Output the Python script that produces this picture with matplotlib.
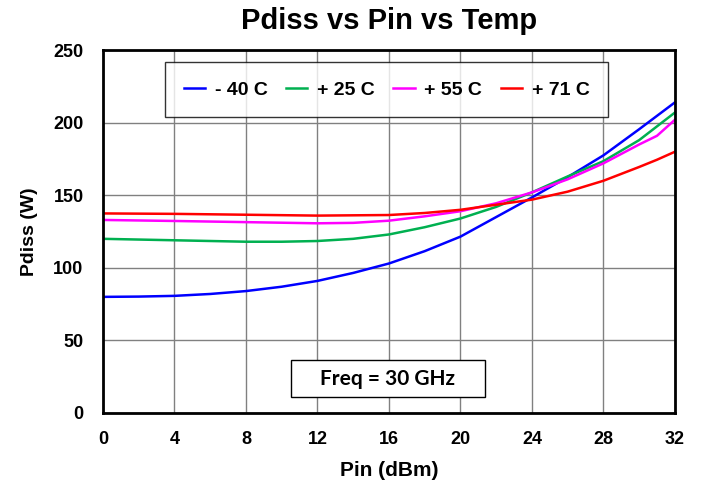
import numpy as np
import matplotlib
matplotlib.use("Agg")
import matplotlib.pyplot as plt
from matplotlib.patches import Rectangle

plt.rcParams['font.family'] = ['Liberation Sans', 'DejaVu Sans']
plt.rcParams['font.weight'] = 'bold'

# Pin (dBm) sample points and Pdiss (W)
pin_m40 = [0, 2, 4, 6, 8, 10, 12, 14, 16, 18, 20, 22, 24, 26, 28, 30, 32]
pd_m40 = [80, 80.2, 80.7, 82, 84, 87, 91, 96.5, 103, 111.5, 121.5, 135, 148.5, 162.5, 177.5, 195.5, 214]

pin_25 = [0, 4, 8, 10, 12, 14, 16, 18, 20, 22, 24, 26, 28, 30, 32]
pd_25 = [120, 119, 118, 118, 118.5, 120, 123, 128, 134, 142, 152, 163, 173.5, 188, 207]

pin_55 = [0, 4, 8, 12, 14, 16, 18, 20, 22, 24, 26, 28, 29, 30, 31, 32]
pd_55 = [133, 132.3, 131.5, 130.7, 131, 132.5, 135.5, 139, 144.5, 152, 161, 172, 178.5, 185, 191, 202]

pin_71 = [0, 4, 8, 12, 16, 18, 20, 22, 24, 26, 28, 30, 31, 32]
pd_71 = [137.5, 137.2, 136.6, 136, 136.4, 137.8, 140, 143.5, 147, 152.5, 160, 169.5, 174.5, 180]

labels = ['- 40 C', '+ 25 C', '+ 55 C', '+ 71 C']
colors = ['#0000ff', '#00b050', '#ff00ff', '#ff0000']

xticks = np.arange(0, 33, 4)
yticks = np.arange(0, 251, 50)

fig = plt.figure(figsize=(7.03, 4.87), dpi=100)
ax = fig.add_axes([0.1465, 0.152, 0.8135, 0.745])

series = [(pin_m40, pd_m40), (pin_25, pd_25), (pin_55, pd_55), (pin_71, pd_71)]
for (x, y), lab, col in zip(series, labels, colors):
    ax.plot(x, y, color=col, lw=1.8, label=lab)

ax.set_xlim(0, 32)
ax.set_ylim(0, 250)
ax.set_xticks(xticks)
ax.set_yticks(yticks)
ax.grid(True, color='#808080', lw=1.0)
ax.set_axisbelow(True)
ax.tick_params(axis='x', length=0, labelsize=13, pad=13)
ax.tick_params(axis='y', length=0, labelsize=13, pad=14)
for lbl in ax.get_xticklabels() + ax.get_yticklabels():
    lbl.set_fontweight('bold')
for sp in ax.spines.values():
    sp.set_linewidth(2)
    sp.set_color('black')

ax.set_title('Pdiss vs Pin vs Temp', fontsize=21, fontweight='bold', pad=15)
ax.set_xlabel('Pin (dBm)', fontsize=15, fontweight='bold', labelpad=9)
ax.set_ylabel('Pdiss (W)', fontsize=14, fontweight='bold', labelpad=11)

leg = ax.legend(loc='center', bbox_to_anchor=(0.496, 0.891), ncol=4,
                frameon=True, fancybox=False, handlelength=1.1,
                handletextpad=0.5, columnspacing=0.95, borderpad=0.95,
                borderaxespad=0, prop={'weight': 'bold', 'size': 14})
leg.get_frame().set_edgecolor('black')
leg.get_frame().set_linewidth(1.0)

# Frequency note box
ax.add_patch(Rectangle((0.3287, 0.044), 0.3393, 0.102, transform=ax.transAxes,
                       fc='white', ec='black', lw=1.0, zorder=3))
ax.text(0.498, 0.095, 'Freq = 30 GHz', transform=ax.transAxes, ha='center', va='center',
        fontsize=15, fontweight='bold', family=['Lato', 'DejaVu Sans'], zorder=4)

fig.savefig('out.png', dpi=100)
